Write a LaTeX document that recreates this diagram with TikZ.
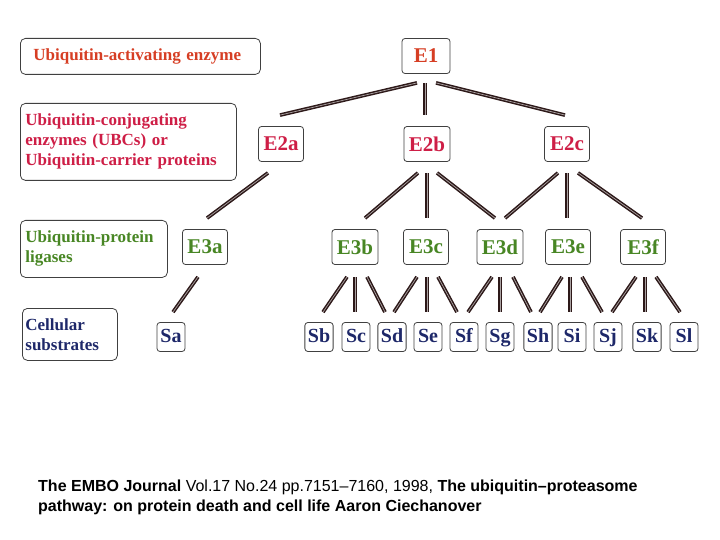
\documentclass[tikz,border=0pt]{standalone}
\usepackage{fontspec}
\setmainfont{Liberation Serif}
\newfontfamily\legfont{Liberation Sans}
\usetikzlibrary{positioning}
\definecolor{rougeEun}{RGB}{214,62,36}
\definecolor{rougeEdeux}{RGB}{206,30,70}
\definecolor{vertEtrois}{RGB}{72,134,36}
\definecolor{bleuS}{RGB}{30,40,105}
\definecolor{trait}{RGB}{45,25,25}

\begin{document}
\begin{tikzpicture}[x=1pt, y=-1pt,
  enz/.style={draw=black!75, rounded corners=3pt, line width=0.8pt, font=\fontsize{21}{22}\selectfont\bfseries, inner xsep=5pt, minimum width=45pt, minimum height=35pt},
  sub/.style={draw=black!75, rounded corners=3pt, line width=0.8pt, text=bleuS, font=\fontsize{20}{20}\selectfont\bfseries, inner xsep=3pt, inner ysep=0pt, text height=14pt, text depth=4pt, minimum width=28pt, minimum height=29pt},
  legende/.style={draw=black!75, rounded corners=5pt, line width=0.8pt, anchor=north west, align=left, inner xsep=5pt, font=\fontsize{17}{20}\selectfont\bfseries},
  lien/.style={draw=trait, line width=1.5pt, double=trait!40!white, double distance=0.7pt}]
  \useasboundingbox (0,0) rectangle (720,540);
  % Légendes à gauche
  \node[legende, text=rougeEun, inner xsep=13pt, text width=214pt, minimum height=36pt] (lgE1) at (20,38) {Ubiquitin-activating enzyme};
  \node[legende, text=rougeEdeux, text width=206pt, minimum height=77pt] (lgE2) at (20,103) {Ubiquitin-conjugating\\enzymes (UBCs) or\\Ubiquitin-carrier proteins};
  \node[legende, text=vertEtrois, text width=137pt, minimum height=57pt] (lgE3) at (20,220) {Ubiquitin-protein\\ligases};
  \node[legende, text=bleuS, inner xsep=3pt, text width=89pt, minimum height=52pt] (lgS) at (22,308) {Cellular\\substrates};
  % Enzymes E1, E2, E3
  \node[enz, text=rougeEun, minimum width=48pt] (E1) at (426,56) {E1};
  \foreach \n/\x in {E2a/281, E2b/427, E2c/567}
    \node[enz, text=rougeEdeux] (\n) at (\x,144) {\n};
  \foreach \n/\x in {E3a/205, E3b/355, E3c/426, E3d/500, E3e/568, E3f/643}
    \node[enz, text=vertEtrois] (\n) at (\x,247) {\n};
  % Substrats
  \foreach \n/\x in {Sa/171, Sb/319, Sc/356, Sd/392, Se/428, Sf/464, Sg/500, Sh/538, Si/572, Sj/608, Sk/647, Sl/684}
    \node[sub] (\n) at (\x,337) {\n};
  % Liens
  \foreach \p/\c/\dp/\dc in {E1/E2a/-9/-1, E1/E2b/-1/-2, E1/E2c/10/-2}
    \draw[lien] ([xshift=\dp pt, yshift=-9pt]\p.south) -- ([xshift=\dc pt, yshift=11pt]\c.north);
  \foreach \p/\c/\dp/\dc in {E2a/E3a/-13/2, E2b/E3b/-9/10, E2b/E3c/0/1, E2b/E3d/10/-5,
                             E2c/E3d/-9/5, E2c/E3e/0/-1, E2c/E3f/11/-1}
    \draw[lien] ([xshift=\dp pt, yshift=-11pt]\p.south) -- ([xshift=\dc pt, yshift=11pt]\c.north);
  \foreach \p/\c/\dp/\dc in {E3a/Sa/-7/2, E3b/Sb/-8/4, E3b/Sc/0/-1, E3b/Sd/12/-7,
                             E3c/Sd/-9/2, E3c/Se/1/-1, E3c/Sf/12/-7, E3d/Sf/-8/4,
                             E3d/Sg/0/0, E3d/Sh/13/-7, E3e/Sh/-6/2, E3e/Si/2/-2,
                             E3e/Sj/14/-6, E3f/Sj/-7/4, E3f/Sk/2/-2, E3f/Sl/13/-4}
    \draw[lien] ([xshift=\dp pt, yshift=-12pt]\p.south) -- ([xshift=\dc pt, yshift=10pt]\c.north);
  % Référence
  \node[anchor=north west, align=left, inner sep=0pt, font=\legfont\fontsize{16}{20}\selectfont] (ref) at (38,480)
    {\textbf{The EMBO Journal} Vol.17 No.24 pp.7151–7160, 1998, \textbf{The ubiquitin–proteasome}\\
     \textbf{pathway: on protein death and cell life Aaron Ciechanover}};
\end{tikzpicture}
\end{document}
